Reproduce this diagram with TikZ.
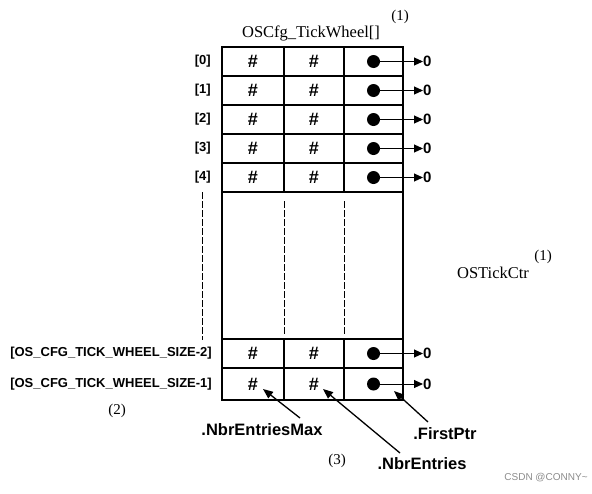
\documentclass[tikz,border=0pt]{standalone}
\usepackage{fontspec}
\setmainfont{Liberation Serif}
\setsansfont{Liberation Sans}
\usetikzlibrary{arrows.meta}
\begin{document}
\begin{tikzpicture}[x=1pt,y=-1pt,
  cellbox/.style={draw,line width=1.8pt,inner sep=0pt,minimum height=29pt,
    font=\sffamily\bfseries\fontsize{18}{18}\selectfont},
  idx/.style={anchor=east,inner sep=0pt,font=\sffamily\bfseries\fontsize{13}{13}\selectfont},
  blob/.style={circle,fill,minimum size=13pt,inner sep=0pt},
  zero/.style={anchor=west,inner sep=0pt,font=\sffamily\bfseries\fontsize{15}{15}\selectfont},
  nextptr/.style={-{Triangle[length=9pt,width=8pt]},line width=1pt},
  fieldptr/.style={-{Triangle[length=10pt,width=8pt]},line width=1.3pt},
  fld/.style={inner sep=0pt,font=\sffamily\bfseries\fontsize{16.5}{16.5}\selectfont},
  note/.style={inner sep=0pt,font=\fontsize{16.5}{16.5}\selectfont},
  dashline/.style={line width=0.8pt,dash pattern=on 7pt off 2pt},
]
\useasboundingbox (0,0) rectangle (592,493);

% top rows
\foreach \i/\yt/\yb in {0/47/76,1/76/105,2/105/134,3/134/163,4/163/192}{
  \node[cellbox,minimum width=62pt,minimum height={\yb-\yt}] (r\i c1) at (253,{(\yt+\yb)/2}) {\#};
  \node[cellbox,minimum width=60pt,minimum height={\yb-\yt}] (r\i c2) at (314,{(\yt+\yb)/2}) {\#};
  \node[cellbox,minimum width=59pt,minimum height={\yb-\yt}] (r\i c3) at (373.5,{(\yt+\yb)/2}) {};
  \node[blob] (d\i) at (r\i c3) {};
  \node[zero] (z\i) at (423,{(\yt+\yb)/2}) {0};
  \draw[nextptr] (d\i) -- (z\i.west);
  \node[idx] (l\i) at (211,{(\yt+\yb)/2}) {[\i]};
}

% gap region
\node[draw,line width=1.8pt,minimum width=181pt,minimum height=147pt,inner sep=0pt] (gap) at (312.5,265.5) {};
\coordinate (g1a) at (284,201); \coordinate (g1b) at (284,334);
\coordinate (g2a) at (344,201); \coordinate (g2b) at (344,334);
\draw[dashline] (g1a) -- (g1b);
\draw[dashline] (g2a) -- (g2b);
\coordinate (la) at (202,192); \coordinate (lb) at (202,340);
\draw[dashline] (la) -- (lb);

% bottom rows
\foreach \i/\yt/\yb/\lab in {8/339/368/{[OS\_CFG\_TICK\_WHEEL\_SIZE-2]},9/368/400/{[OS\_CFG\_TICK\_WHEEL\_SIZE-1]}}{
  \node[cellbox,minimum width=62pt,minimum height={\yb-\yt}] (r\i c1) at (253,{(\yt+\yb)/2}) {\#};
  \node[cellbox,minimum width=60pt,minimum height={\yb-\yt}] (r\i c2) at (314,{(\yt+\yb)/2}) {\#};
  \node[cellbox,minimum width=59pt,minimum height={\yb-\yt}] (r\i c3) at (373.5,{(\yt+\yb)/2}) {};
  \node[blob] (d\i) at (r\i c3) {};
  \node[zero] (z\i) at (423,{(\yt+\yb)/2}) {0};
  \draw[nextptr] (d\i) -- (z\i.west);
  \node[idx] (l\i) at (212,{(\yt+\yb)/2}) {\lab};
}

% titles
\node[note] (title) at (311,33) {OSCfg\_TickWheel[]};
\node[note,font=\fontsize{15}{15}\selectfont] (n1a) at (400,17) {(1)};
\node[note] (ctr) at (493,273) {OSTickCtr};
\node[note,font=\fontsize{15}{15}\selectfont] (n1b) at (543,257) {(1)};
\node[note,font=\fontsize{15}{15}\selectfont] (n2) at (117,411) {(2)};
\node[note,font=\fontsize{15}{15}\selectfont] (n3) at (337,461) {(3)};

% field labels
\node[fld] (nem) at (262,430) {.NbrEntriesMax};
\node[fld] (ne) at (422,464) {.NbrEntries};
\node[fld] (fp) at (445,434) {.FirstPtr};
\coordinate (t1) at (263,389);
\coordinate (t2) at (323,389);
\coordinate (t3) at (394,391);
\coordinate (s1) at (300,418);
\coordinate (s2) at (400,453);
\coordinate (s3) at (428,422);
\draw[fieldptr] (s1) -- (t1);
\draw[fieldptr] (s2) -- (t2);
\draw[fieldptr] (s3) -- (t3);

% watermark
\node[inner sep=0pt,text=black!45,font=\sffamily\fontsize{10}{10}\selectfont] (wm) at (546,478) {CSDN @CONNY\textasciitilde};
\end{tikzpicture}
\end{document}
